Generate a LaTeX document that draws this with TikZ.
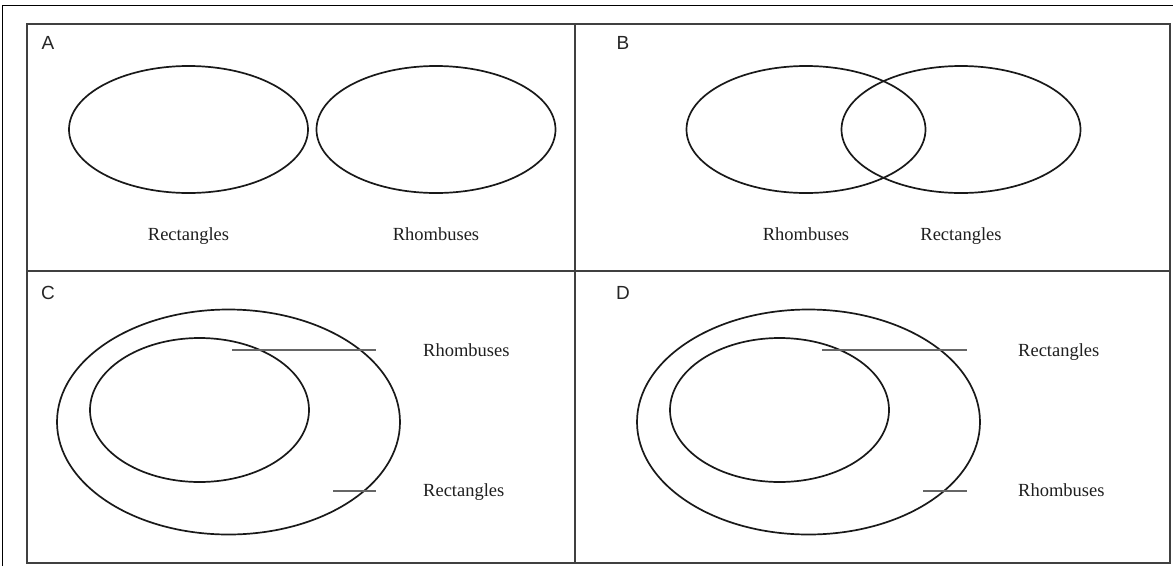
\documentclass[tikz,border=0pt]{standalone}
\usepackage{fontspec}
\setmainfont{Liberation Serif}
\newfontfamily\lettersf{Liberation Sans}
\usetikzlibrary{shapes.geometric}
\tikzstyle{panel} = [draw=black!75, line width=1.6pt]
\tikzstyle{venn} = [draw=black!90, ellipse, line width=1.7pt, inner sep=0pt]
\tikzstyle{setname} = [font=\fontsize{18.5}{20}\selectfont, text=black!88, inner sep=0pt, anchor=base]
\tikzstyle{panelname} = [font=\lettersf\fontsize{19}{21}\selectfont, text=black!85, inner sep=0pt]
\tikzstyle{leader} = [draw=black!60, line width=1.3pt]

\begin{document}
\begin{tikzpicture}[x=1pt,y=-1pt]
\useasboundingbox (0,0) rectangle (1173,566);
% page frame and the four panels
\draw[black, line width=0.9pt] (2,566) -- (2,5) -- (1173,5);
\draw[panel] (27,24) rectangle (1170,563);
\draw[panel] (575,24) -- (575,563);
\draw[panel] (27,271) -- (1170,271);

\node[panelname] (lblA) at (48,43) {A};
\node[panelname] (lblB) at (623,43) {B};
\node[panelname] (lblC) at (48,293) {C};
\node[panelname] (lblD) at (623,293) {D};

% A: two separate sets
\node[venn, minimum width=239pt, minimum height=127pt] (recA) at (188.5,129.5) {};
\node[venn, minimum width=239pt, minimum height=127pt] (rhoA) at (436,129.5) {};
\node[setname] (recAtxt) at (188.5,240) {Rectangles};
\node[setname] (rhoAtxt) at (436,240) {Rhombuses};

% B: overlapping sets
\node[venn, minimum width=239pt, minimum height=127pt] (rhoB) at (806,129.5) {};
\node[venn, minimum width=239pt, minimum height=127pt] (recB) at (961,129.5) {};
\node[setname] (rhoBtxt) at (806,240) {Rhombuses};
\node[setname] (recBtxt) at (961,240) {Rectangles};

% C: rhombuses inside rectangles
\node[venn, minimum width=343pt, minimum height=225pt] (outC) at (228.5,422) {};
\node[venn, minimum width=219pt, minimum height=144pt] (inC) at (199.5,410) {};
\coordinate (inCa) at (232,350);
\coordinate (inCb) at (376,350);
\coordinate (outCa) at (333,491);
\coordinate (outCb) at (376,491);
\draw[leader] (inCa) -- (inCb);
\draw[leader] (outCa) -- (outCb);
\node[setname, anchor=base west] (inCtxt) at (423,356) {Rhombuses};
\node[setname, anchor=base west] (outCtxt) at (423,496) {Rectangles};

% D: rectangles inside rhombuses
\node[venn, minimum width=343pt, minimum height=225pt] (outD) at (808.5,422) {};
\node[venn, minimum width=219pt, minimum height=144pt] (inD) at (779.5,410) {};
\coordinate (inDa) at (822,350);
\coordinate (inDb) at (967,350);
\coordinate (outDa) at (923,491);
\coordinate (outDb) at (967,491);
\draw[leader] (inDa) -- (inDb);
\draw[leader] (outDa) -- (outDb);
\node[setname, anchor=base west] (inDtxt) at (1018,356) {Rectangles};
\node[setname, anchor=base west] (outDtxt) at (1018,496) {Rhombuses};
\end{tikzpicture}
\end{document}
